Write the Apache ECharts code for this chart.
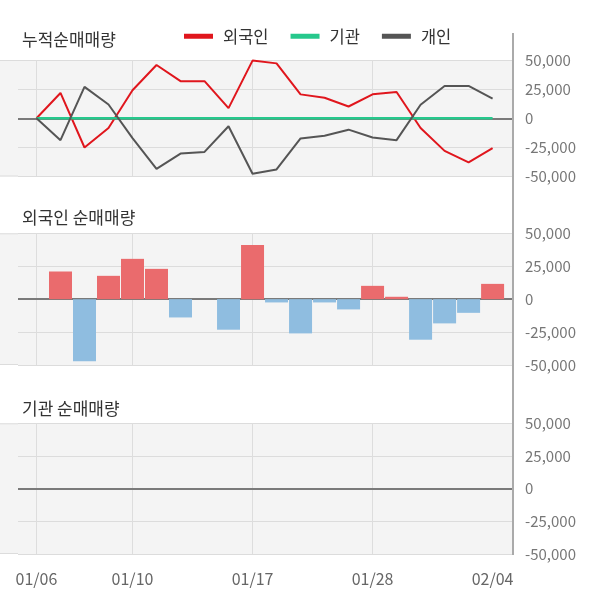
<!DOCTYPE html>
<html>
<head>
<meta charset="utf-8">
<script src="https://cdn.jsdelivr.net/npm/echarts@6/dist/echarts.min.js"></script>
<style>
html,body{margin:0;padding:0;background:#fff;}
#c{width:600px;height:604px;}
</style>
</head>
<body>
<div id="c"></div>
<script>
const dates = ['01/06','01/07','01/08','01/09','01/10','01/13','01/14','01/15','01/16','01/17','01/20','01/21','01/22','01/23','01/28','01/29','01/30','01/31','02/03','02/04'];
const labelIdx = [0, 4, 9, 14, 19];
const gridIdx = [0, 4, 9, 14];
const yTicks = [-50000, -25000, 0, 25000, 50000];

const foreignCum = [0, 21700, -25100, -8400, 24000, 45700, 31800, 31800, 8700, 49500, 47100, 20500, 17600, 10100, 20500, 22500, -8400, -28000, -37900, -25700];
const instCum    = [0, 0, 0, 0, 0, 0, 0, 0, 0, 0, 0, 0, 0, 0, 0, 0, 0, 0, 0, 0];
const indivCum   = [0, -18800, 26900, 11800, -17000, -43400, -30300, -28900, -6900, -47700, -43900, -17300, -15000, -9800, -16500, -18800, 11600, 27700, 27700, 16800];

const foreignNet = [0, 21000, -47200, 17700, 30600, 23000, -13900, 0, -23200, 41200, -2500, -26000, -2500, -7800, 10100, 1800, -30800, -18400, -10400, 11600];
const instNet    = [0, 0, 0, 0, 0, 0, 0, 0, 0, 0, 0, 0, 0, 0, 0, 0, 0, 0, 0, 0];

const FONT = '"Noto Sans CJK KR", "Noto Sans", sans-serif';
const pairs = arr => arr.map((v, i) => [i, v]);

const grids = [
  {left: 18, right: 87, top: 60, height: 116.5},
  {left: 18, right: 87, top: 233.3, height: 131.7},
  {left: 18, right: 87, top: 423.3, height: 130.7}
];

const xAxes = grids.map((g, i) => ({
  type: 'value', gridIndex: i, min: -0.77, max: 19.85,
  axisLine: {show: false}, axisTick: {show: false}, splitLine: {show: false},
  axisLabel: i === 2 ? {
    show: true, customValues: labelIdx, margin: 17,
    color: '#666', fontSize: 16, fontFamily: FONT,
    formatter: v => dates[Math.round(v)] || ''
  } : {show: false}
}));

const yAxes = grids.map((g, i) => ({
  type: 'value', gridIndex: i, position: 'right',
  min: -50000, max: 50000, interval: 25000,
  axisLine: {show: false}, axisTick: {show: false},
  splitLine: {show: true, lineStyle: {color: '#dcdcdc', width: 1}},
  axisLabel: {
    margin: 12, color: '#777', fontSize: 15, fontFamily: FONT,
    formatter: v => v.toLocaleString('en-US')
  }
}));

function vLines(i) {
  return {
    type: 'line', xAxisIndex: i, yAxisIndex: i, data: [], z: 1, zlevel: 0, silent: true,
    symbol: 'none',
    markLine: {
      silent: true, symbol: 'none', label: {show: false}, animation: false,
      data: gridIdx.map(x => ({xAxis: x, lineStyle: {color: '#dddddd', width: 1, type: 'solid'}}))
    }
  };
}
function zeroLine(i, zl) {
  return {
    type: 'line', xAxisIndex: i, yAxisIndex: i, data: [], z: 1, zlevel: zl, silent: true,
    symbol: 'none',
    markLine: {
      silent: true, symbol: 'none', label: {show: false}, animation: false,
      data: [{yAxis: 0, lineStyle: {color: '#7a7a7a', width: 2, type: 'solid'}}]
    }
  };
}

const barColor = p => (p.value[1] >= 0 ? '#ea6b6d' : '#8fbde0');

const option = {
  animation: false,
  backgroundColor: '#fff',
  textStyle: {fontFamily: FONT},
  title: [
    {text: '누적순매매량', left: 22, top: 31, padding: 0, textStyle: {fontSize: 17, fontWeight: 'normal', color: '#333', fontFamily: FONT}},
    {text: '외국인 순매매량', left: 22, top: 209, padding: 0, textStyle: {fontSize: 17, fontWeight: 'normal', color: '#333', fontFamily: FONT}},
    {text: '기관 순매매량', left: 22, top: 400, padding: 0, textStyle: {fontSize: 17, fontWeight: 'normal', color: '#333', fontFamily: FONT}}
  ],
  legend: {
    left: 184, top: 28, padding: 0, itemWidth: 29, itemHeight: 5, itemGap: 22, icon: 'rect',
    data: ['외국인', '기관', '개인'],
    textStyle: {fontSize: 16.5, color: '#333', fontFamily: FONT, padding: [0, 0, 0, 5]}
  },
  grid: grids.map(g => Object.assign({show: true, backgroundColor: '#f4f4f4', borderWidth: 0}, g)),
  xAxis: xAxes,
  yAxis: yAxes,
  series: [
    vLines(0), vLines(1), vLines(2),
    zeroLine(0, 0), zeroLine(1, 2), zeroLine(2, 2),
    {name: '외국인', type: 'line', xAxisIndex: 0, yAxisIndex: 0, data: pairs(foreignCum), symbol: 'none', z: 3, zlevel: 1,
      lineStyle: {color: '#e0161d', width: 2}, itemStyle: {color: '#e0161d'}},
    {name: '기관', type: 'line', xAxisIndex: 0, yAxisIndex: 0, data: pairs(instCum), symbol: 'none', z: 3, zlevel: 1,
      lineStyle: {color: '#26c88c', width: 2.5}, itemStyle: {color: '#26c88c'}},
    {name: '개인', type: 'line', xAxisIndex: 0, yAxisIndex: 0, data: pairs(indivCum), symbol: 'none', z: 3, zlevel: 1,
      lineStyle: {color: '#555555', width: 2}, itemStyle: {color: '#555555'}},
    {name: '외국인순매매', type: 'bar', xAxisIndex: 1, yAxisIndex: 1, data: pairs(foreignNet), barWidth: 23, z: 2, zlevel: 1,
      itemStyle: {color: barColor}},
    {name: '기관순매매', type: 'bar', xAxisIndex: 2, yAxisIndex: 2, data: pairs(instNet), barWidth: 23, z: 2, zlevel: 1,
      itemStyle: {color: barColor}}
  ]
};

const chart = echarts.init(document.getElementById('c'), null, {renderer: 'canvas'});
chart.setOption(option);

// decorative: extend plot background to the left edge, and the right axis line
const gfx = [];
grids.forEach((g, i) => {
  const yTop = chart.convertToPixel({yAxisIndex: i}, 50000);
  const yBot = chart.convertToPixel({yAxisIndex: i}, -50000);
  const xL = chart.convertToPixel({xAxisIndex: i}, -0.77);
  gfx.push({type: 'rect', shape: {x: 0, y: yTop, width: xL, height: yBot - yTop}, style: {fill: '#f4f4f4'}, z: 0, silent: true});
  gfx.push({type: 'line', shape: {x1: 0, y1: yTop + 0.5, x2: xL, y2: yTop + 0.5}, style: {stroke: '#dcdcdc', lineWidth: 1}, z: 0, silent: true});
  gfx.push({type: 'line', shape: {x1: 0, y1: yBot - 0.5, x2: xL, y2: yBot - 0.5}, style: {stroke: '#dcdcdc', lineWidth: 1}, z: 0, silent: true});
});
const xR = chart.convertToPixel({xAxisIndex: 0}, 19.85);
const yStart = chart.convertToPixel({yAxisIndex: 0}, 50000) - 27;
const yEnd = chart.convertToPixel({yAxisIndex: 2}, -50000) + 1;
gfx.push({type: 'line', shape: {x1: xR, y1: yStart, x2: xR, y2: yEnd}, style: {stroke: '#aaaaaa', lineWidth: 2}, z: 10, silent: true});
chart.setOption({graphic: gfx});
</script>
</body>
</html>
